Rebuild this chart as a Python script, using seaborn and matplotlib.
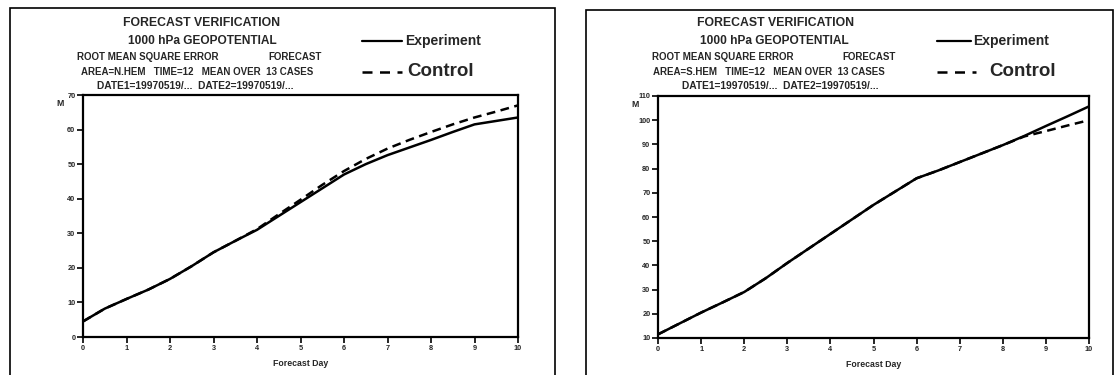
import matplotlib
matplotlib.use("Agg")
import matplotlib.pyplot as plt
from matplotlib.lines import Line2D
from matplotlib.patches import Rectangle
import numpy as np
import pandas as pd
import seaborn as sns

# Forecast days (12-hourly verification steps)
days = [0, 0.5, 1, 1.5, 2, 2.5, 3, 3.5, 4, 4.5, 5, 5.5, 6, 6.5, 7, 7.5, 8, 8.5, 9, 9.5, 10]

# RMSE of 1000 hPa geopotential (m), northern hemisphere
nh_experiment = [4.5, 8.2, 11.0, 13.7, 16.8, 20.5, 24.5, 27.8, 31.0, 35.0, 39.0, 43.0,
                 47.0, 50.0, 52.6, 54.8, 57.0, 59.3, 61.5, 62.5, 63.5]
nh_control = [4.5, 8.2, 11.0, 13.7, 16.8, 20.5, 24.5, 27.8, 31.2, 35.5, 39.7, 44.0,
              48.0, 51.5, 54.5, 57.0, 59.3, 61.5, 63.5, 65.2, 67.0]

# RMSE of 1000 hPa geopotential (m), southern hemisphere
sh_experiment = [11.5, 16.0, 20.5, 24.7, 29.0, 34.7, 41.0, 47.0, 53.0, 59.0, 65.0, 70.5,
                 76.0, 79.2, 82.7, 86.2, 89.7, 93.5, 97.6, 101.6, 105.7]
sh_control = [11.5, 16.0, 20.5, 24.7, 29.0, 34.7, 41.0, 47.0, 53.0, 59.0, 65.0, 70.5,
              76.0, 79.2, 82.7, 86.2, 89.7, 93.3, 95.5, 97.8, 100.0]

areas = ["N.HEM", "S.HEM"]
y_ranges = [(0, 70), (10, 110)]
x_ticks = list(range(0, 11))

sns.set_theme(style="white")
plt.rcParams["font.family"] = ["Liberation Sans", "DejaVu Sans"]
plt.rcParams["font.weight"] = "bold"

W, H = 1116, 375
fig = plt.figure(figsize=(W / 100, H / 100), dpi=100)
fig.patch.set_facecolor("white")

# pixel layout for each panel: frame box, axes box, header text anchors, legend anchors
panels = [
    dict(frame=(10, 8, 555), axes=(83, 95, 518, 337),
         t1=123, t2=128, r3=77, r3b=268, r4=81, r5=97,
         leg_line=(362, 402), exp_x=405, ctl_line=(362, 402), ctl_x=407),
    dict(frame=(586, 10, 1113), axes=(658, 96, 1089, 338),
         t1=697, t2=700, r3=652, r3b=842, r4=653, r5=682,
         leg_line=(937, 971), exp_x=973, ctl_line=(937, 976), ctl_x=989),
]

series = [(nh_experiment, nh_control), (sh_experiment, sh_control)]

def fx(px):
    return px / W

def fy(py):
    return 1 - py / H

small = 7.0

for i, p in enumerate(panels):
    fl, ft, fr = p["frame"]
    fig.patches.append(Rectangle((fx(fl), fy(H + 5)), fx(fr - fl), fy(ft) - fy(H + 5),
                                 transform=fig.transFigure, fill=False,
                                 edgecolor="black", linewidth=1.2))
    al, at, ar, ab = p["axes"]
    ax = fig.add_axes([fx(al), fy(ab), fx(ar - al), fy(at) - fy(ab)])
    exp_vals, ctl_vals = series[i]
    df = pd.DataFrame({
        "day": days * 2,
        "rmse": exp_vals + ctl_vals,
        "run": ["Experiment"] * len(days) + ["Control"] * len(days),
    })
    sns.lineplot(data=df, x="day", y="rmse", style="run",
                 dashes={"Experiment": "", "Control": (3.5, 2.2)},
                 color="black", linewidth=1.8, legend=False, ax=ax)
    ax.set_xlim(0, 10)
    ax.set_ylim(*y_ranges[i])
    ax.set_xticks(x_ticks)
    ax.set_yticks(np.arange(y_ranges[i][0], y_ranges[i][1] + 1, 10))
    ax.tick_params(axis="both", which="major", direction="out", length=4, width=1.2,
                   labelsize=5.3, color="black", pad=1.5, left=True, bottom=True)
    for lbl in ax.get_xticklabels() + ax.get_yticklabels():
        lbl.set_fontweight("bold")
    for s in ax.spines.values():
        s.set_color("black")
        s.set_linewidth(1.6)
    ax.set_xlabel("Forecast Day", fontsize=6.3, fontweight="bold", labelpad=5)
    ax.set_ylabel("")
    ax.text(-0.045, 0.985, "M", transform=ax.transAxes, fontsize=6.3, fontweight="bold",
            ha="right", va="top")

    fig.text(fx(p["t1"]), fy(23), "FORECAST VERIFICATION", fontsize=8.8, fontweight="bold",
             ha="left", va="center")
    fig.text(fx(p["t2"]), fy(41), "1000 hPa GEOPOTENTIAL", fontsize=8.6, fontweight="bold",
             ha="left", va="center")
    fig.text(fx(p["r3"]), fy(57), "ROOT MEAN SQUARE ERROR", fontsize=small, fontweight="bold",
             ha="left", va="center")
    fig.text(fx(p["r3b"]), fy(57), "FORECAST", fontsize=small, fontweight="bold",
             ha="left", va="center")
    fig.text(fx(p["r4"]), fy(72), f"AREA={areas[i]}   TIME=12   MEAN OVER  13 CASES",
             fontsize=small, fontweight="bold", ha="left", va="center")
    fig.text(fx(p["r5"]), fy(86), "DATE1=19970519/...  DATE2=19970519/...",
             fontsize=7.4, fontweight="bold", ha="left", va="center")

    x0, x1 = p["leg_line"]
    fig.lines.append(Line2D([fx(x0), fx(x1)], [fy(41), fy(41)], transform=fig.transFigure,
                            color="black", linewidth=1.6))
    fig.text(fx(p["exp_x"]), fy(41), "Experiment", fontsize=10, fontweight="bold",
             ha="left", va="center")
    x0, x1 = p["ctl_line"]
    fig.lines.append(Line2D([fx(x0), fx(x1)], [fy(72), fy(72)], transform=fig.transFigure,
                            color="black", linewidth=1.8, dashes=(4, 3)))
    fig.text(fx(p["ctl_x"]), fy(72), "Control", fontsize=13.5, fontweight="bold",
             ha="left", va="center")

fig.savefig("out.png", dpi=100, facecolor="white")
